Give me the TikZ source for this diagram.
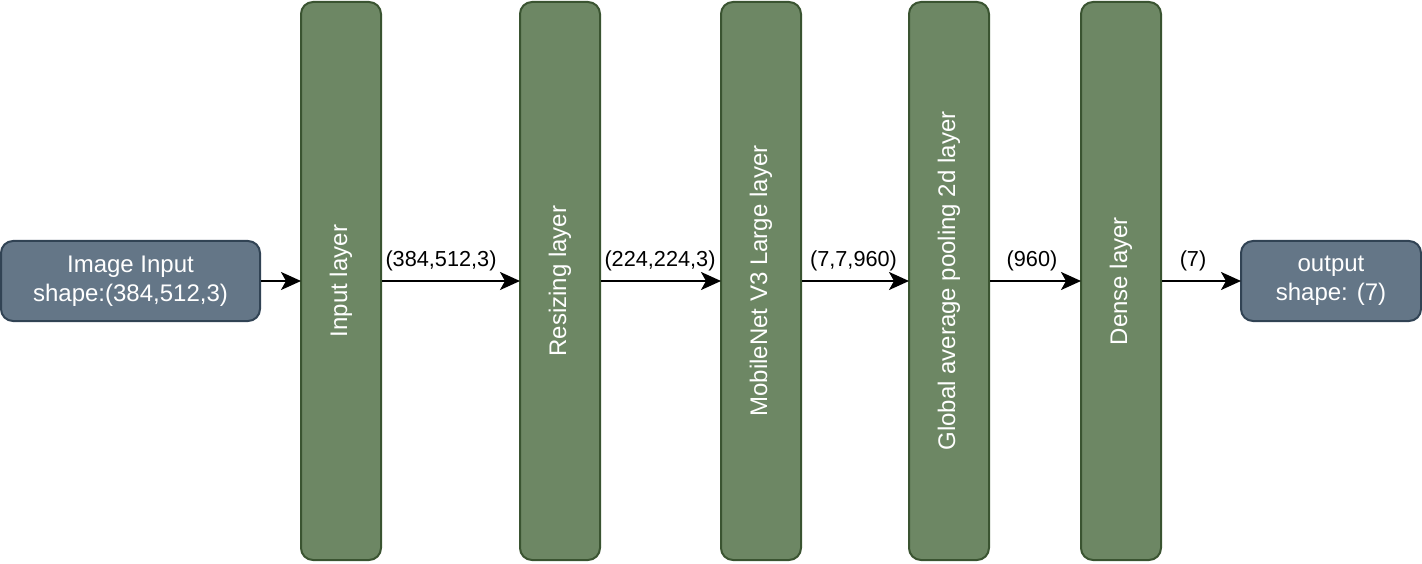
\documentclass[tikz,border=0pt]{standalone}
\usepackage{fontspec}
\setmainfont{Liberation Sans}
\usetikzlibrary{arrows.meta}
\definecolor{layerfill}{HTML}{6D8764}
\definecolor{layerdraw}{HTML}{3A5431}
\definecolor{iofill}{HTML}{647687}
\definecolor{iodraw}{HTML}{314354}
\begin{document}
\begin{tikzpicture}[x=1pt,y=-1pt,
  layerbox/.style={draw=layerdraw,fill=layerfill,line width=2pt,rounded corners=12pt,
    rotate=90,minimum width=558pt,minimum height=80pt,inner sep=0pt,text=white,
    font=\fontsize{24}{28.8}\selectfont},
  iobox/.style={draw=iodraw,fill=iofill,line width=2pt,rounded corners=12pt,
    minimum height=80pt,inner sep=0pt,text=white,align=center,
    font=\fontsize{24}{28.8}\selectfont},
  conn/.style={line width=2pt,-{Stealth[length=20pt,width=18pt,inset=5pt]},shorten >=-1pt},
  elabel/.style={font=\fontsize{21.7}{26}\selectfont,inner sep=0pt,anchor=center}
]
\useasboundingbox (0,0) rectangle (1422,564);
\node[iobox,minimum width=259pt] (img) at (130.5,281) {Image Input\\shape:(384,512,3)};
\node[layerbox] (inp) at (341,281) {Input layer};
\node[layerbox] (res) at (560,281) {Resizing layer};
\node[layerbox] (mob) at (761,281) {MobileNet V3 Large layer};
\node[layerbox] (gap) at (949,281) {Global average pooling 2d layer};
\node[layerbox] (den) at (1121,281) {Dense layer};
\node[iobox,minimum width=180pt] (out) at (1331,281) {output\\shape: (7)};
\draw[conn] (img.east) -- (inp.north);
\draw[conn] (inp.south) -- (res.north);
\draw[conn] (res.south) -- (mob.north);
\draw[conn] (mob.south) -- (gap.north);
\draw[conn] (gap.south) -- (den.north);
\draw[conn] (den.south) -- (out.west);
\node[elabel] (l1) at (441,261) {(384,512,3)};
\node[elabel] (l2) at (660,261) {(224,224,3)};
\node[elabel] (l3) at (853.5,261) {(7,7,960)};
\node[elabel] (l4) at (1032,261) {(960)};
\node[elabel] (l5) at (1193,261) {(7)};
\end{tikzpicture}
\end{document}
